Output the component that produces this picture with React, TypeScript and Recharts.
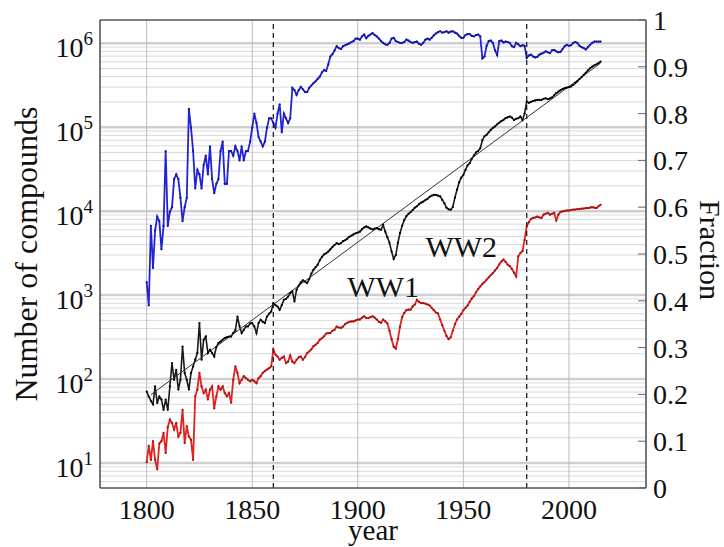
import React from "react"
import { LineChart, Line, XAxis, YAxis, ReferenceLine, ReferenceDot, Label } from "recharts"

const FONT = "'Liberation Serif', 'DejaVu Serif', serif"

// one entry per year, 1800..2015
const years = Array.from({ length: 216 }, (_, i) => 1800 + i)

// new compounds per year (left, log axis)
const newCompounds = [
  71, 62, 55, 50, 82, 52, 62, 57, 43, 57,
  43, 82, 155, 98, 129, 75, 98, 244, 118, 98,
  75, 118, 141, 170, 204, 464, 170, 294, 321, 204,
  223, 204, 186, 240, 268, 280, 294, 308, 315, 321,
  321, 353, 380, 556, 423, 353, 386, 423, 423, 460,
  464, 423, 353, 464, 508, 480, 464, 556, 600, 638,
  803, 760, 731, 668, 760, 880, 900, 960, 1057, 1106,
  841, 1157, 1300, 1420, 1500, 1450, 1389, 1550, 1800, 2000,
  2150, 2300, 2600, 2850, 3050, 3150, 3300, 3500, 3750, 3950,
  4160, 4050, 4150, 4400, 4500, 4700, 4950, 5100, 5300, 5450,
  5550, 5700, 6100, 6400, 6570, 6400, 6200, 6050, 6200, 6280,
  6100, 6000, 6870, 5700, 4900, 4200, 3300, 2700, 3000, 4200,
  5470, 6700, 7800, 8700, 9300, 9700, 10300, 11000, 11400, 12100,
  12600, 13000, 13500, 14000, 14800, 15300, 15600, 15640, 15300, 14960,
  13600, 12450, 11000, 10500, 10370, 11200, 14500, 18000, 22000, 25000,
  27000, 31000, 35000, 37300, 42000, 46000, 50000, 52000, 56000, 70000,
  78000, 81000, 87000, 93000, 98000, 102000, 108000, 113000, 118000, 122000,
  128000, 131000, 134000, 130000, 122000, 126000, 128000, 134000, 122000, 145000,
  202000, 195000, 200000, 205000, 208000, 211000, 212000, 211000, 218000, 221000,
  215000, 220000, 226000, 240000, 254000, 265000, 275000, 285000, 291000, 296000,
  300000, 305000, 318000, 334000, 352000, 375000, 395000, 420000, 445000, 475000,
  503000, 525000, 545000, 560000, 580000, 605000,
]

// blue fraction (right axis)
const fractionBlue = [
  0.44, 0.39, 0.56, 0.47, 0.55, 0.58, 0.57, 0.51, 0.56, 0.72,
  0.56, 0.59, 0.6, 0.66, 0.67, 0.66, 0.62, 0.57, 0.6, 0.62,
  0.81, 0.77, 0.72, 0.64, 0.68, 0.67, 0.64, 0.69, 0.71, 0.67,
  0.73, 0.66, 0.63, 0.65, 0.66, 0.72, 0.74, 0.65, 0.65, 0.72,
  0.72, 0.71, 0.73, 0.72, 0.7, 0.73, 0.7, 0.72, 0.72, 0.74,
  0.77, 0.8, 0.78, 0.75, 0.74, 0.73, 0.74, 0.77, 0.79, 0.79,
  0.78, 0.77, 0.8, 0.82, 0.76, 0.8, 0.79, 0.78, 0.79, 0.855,
  0.85, 0.84, 0.85, 0.857, 0.852, 0.846, 0.846, 0.855, 0.86, 0.865,
  0.869, 0.874, 0.879, 0.888, 0.893, 0.891, 0.905, 0.922, 0.927, 0.935,
  0.944, 0.94, 0.938, 0.944, 0.946, 0.948, 0.95, 0.953, 0.955, 0.96,
  0.96, 0.958, 0.965, 0.969, 0.961, 0.966, 0.969, 0.972, 0.968, 0.965,
  0.96, 0.955, 0.951, 0.948, 0.947, 0.951, 0.96, 0.962, 0.955, 0.953,
  0.951, 0.951, 0.953, 0.958, 0.956, 0.953, 0.951, 0.953, 0.954, 0.949,
  0.947, 0.951, 0.958, 0.96, 0.958, 0.962, 0.967, 0.971, 0.974, 0.976,
  0.973, 0.974, 0.976, 0.973, 0.975, 0.976, 0.973, 0.971, 0.966, 0.962,
  0.962, 0.968, 0.97, 0.97, 0.966, 0.965, 0.968, 0.969, 0.965, 0.918,
  0.922, 0.945, 0.955, 0.956, 0.951, 0.935, 0.925, 0.955, 0.956, 0.952,
  0.954, 0.953, 0.951, 0.944, 0.942, 0.951, 0.948, 0.944, 0.946, 0.945,
  0.919, 0.924, 0.926, 0.922, 0.92, 0.921, 0.926, 0.928, 0.93, 0.933,
  0.931, 0.929, 0.935, 0.936, 0.933, 0.931, 0.932, 0.938, 0.944, 0.947,
  0.945, 0.946, 0.951, 0.953, 0.951, 0.945, 0.942, 0.94, 0.937, 0.942,
  0.947, 0.951, 0.954, 0.954, 0.954, 0.954,
]

// red fraction (right axis)
const fractionRed = [
  0.055, 0.09, 0.06, 0.1, 0.06, 0.04, 0.095, 0.1, 0.118, 0.075,
  0.13, 0.146, 0.139, 0.125, 0.139, 0.11, 0.118, 0.167, 0.096, 0.132,
  0.11, 0.103, 0.06, 0.196, 0.21, 0.246, 0.217, 0.203, 0.21, 0.189,
  0.21, 0.217, 0.17, 0.196, 0.217, 0.21, 0.217, 0.203, 0.196, 0.203,
  0.182, 0.231, 0.26, 0.246, 0.224, 0.231, 0.239, 0.235, 0.231, 0.228,
  0.231, 0.228, 0.224, 0.235, 0.239, 0.246, 0.25, 0.253, 0.256, 0.26,
  0.296, 0.285, 0.281, 0.274, 0.278, 0.281, 0.267, 0.27, 0.283, 0.27,
  0.267, 0.274, 0.279, 0.281, 0.274, 0.28, 0.288, 0.292, 0.296, 0.303,
  0.306, 0.31, 0.317, 0.32, 0.324, 0.33, 0.331, 0.331, 0.336, 0.338,
  0.345, 0.343, 0.342, 0.345, 0.35, 0.353, 0.355, 0.356, 0.356, 0.358,
  0.36, 0.36, 0.364, 0.367, 0.363, 0.363, 0.365, 0.367, 0.364, 0.36,
  0.355, 0.353, 0.36, 0.356, 0.352, 0.336, 0.318, 0.302, 0.298, 0.318,
  0.345, 0.365, 0.374, 0.38, 0.381, 0.381, 0.388, 0.392, 0.402, 0.398,
  0.395, 0.395, 0.394, 0.392, 0.39, 0.385, 0.38, 0.375, 0.373, 0.36,
  0.348, 0.336, 0.325, 0.318, 0.322, 0.336, 0.35, 0.36, 0.366, 0.372,
  0.38, 0.385, 0.39, 0.398, 0.405, 0.41, 0.418, 0.425, 0.431, 0.436,
  0.44, 0.445, 0.45, 0.455, 0.459, 0.465, 0.47, 0.478, 0.484, 0.488,
  0.483, 0.477, 0.474, 0.468, 0.46, 0.452, 0.495, 0.502, 0.506, 0.53,
  0.559, 0.568, 0.575, 0.577, 0.578, 0.58, 0.578, 0.577, 0.584, 0.586,
  0.588, 0.584, 0.586, 0.588, 0.572, 0.584, 0.59, 0.591, 0.592, 0.593,
  0.593, 0.594, 0.595, 0.595, 0.596, 0.596, 0.597, 0.597, 0.598, 0.598,
  0.599, 0.6, 0.599, 0.598, 0.602, 0.605,
]

// exponential fit, straight on the log axis
const fitYears = [1802, 2015]
const fitCounts = [65, 580000]

const decadeTicks = [10, 100, 1000, 10000, 100000, 1000000]
const fractionTicks = [0, 0.1, 0.2, 0.3, 0.4, 0.5, 0.6, 0.7, 0.8, 0.9, 1]
const yearTicks = [1800, 1850, 1900, 1950, 2000]
const markerYears = [1860, 1980]
const warLabels = [
  { text: "WW1", year: 1912, count: 955 },
  { text: "WW2", year: 1949, count: 2860 },
]

const LOG_DOMAIN: [number, number] = [5.04, 1.89e6]

const rows = years.map((year, i) => ({
  year,
  compounds: newCompounds[i],
  blue: fractionBlue[i],
  red: fractionRed[i],
}))
const fitRows = fitYears.map((year, i) => ({ year, fit: fitCounts[i] }))

// 2..9 lines inside every decade
const minorGrid: number[] = []
for (const d of [1, ...decadeTicks]) {
  for (let m = 2; m <= 9; m++) {
    const v = d * m
    if (v > LOG_DOMAIN[0] && v < LOG_DOMAIN[1]) minorGrid.push(v)
  }
}

function PowerTick({ x, y, payload }: any) {
  const exp = Math.round(Math.log10(payload.value))
  return (
    <text x={x} y={y + 14} textAnchor="end" fontFamily={FONT} fontSize={28} fill="#111">
      10
      <tspan dy={-12} fontSize={19}>
        {exp}
      </tspan>
    </text>
  )
}

function WarText({ cx, cy, text }: any) {
  return (
    <text x={cx} y={cy} textAnchor="middle" fontFamily={FONT} fontSize={30} fill="#111">
      {text}
    </text>
  )
}

const tickStyle = { fontFamily: FONT, fontSize: 28, fill: "#111" }
const frame = { stroke: "#555", strokeWidth: 1.6 }

export default function App() {
  return (
    <div style={{ position: "absolute", left: 0, top: 0, background: "#fff" }}>
      <LineChart width={724} height={547} data={rows} margin={{ top: 20, right: 0, bottom: 0, left: 0 }}>
        <XAxis
          dataKey="year"
          type="number"
          domain={[1777.9, 2036.5]}
          ticks={yearTicks}
          allowDataOverflow
          height={59}
          tickLine={false}
          tickSize={0}
          tickMargin={11}
          axisLine={frame}
          tick={tickStyle}
        >
          <Label
            content={({ viewBox }: any) => (
              <text
                x={viewBox.x + viewBox.width / 2}
                y={viewBox.y + 52}
                textAnchor="middle"
                fontFamily={FONT}
                fontSize={29}
                fill="#111"
              >
                year
              </text>
            )}
          />
        </XAxis>
        <YAxis
          yAxisId="left"
          scale="log"
          domain={LOG_DOMAIN}
          allowDataOverflow
          ticks={decadeTicks}
          width={100}
          tickLine={false}
          tickSize={0}
          tickMargin={7}
          axisLine={frame}
          tick={<PowerTick />}
        >
          <Label
            content={({ viewBox }: any) => {
              const lx = viewBox.x + 37
              const ly = viewBox.y + viewBox.height / 2
              return (
                <text
                  x={lx}
                  y={ly}
                  transform={`rotate(-90, ${lx}, ${ly})`}
                  textAnchor="middle"
                  fontFamily={FONT}
                  fontSize={32}
                  fill="#111"
                >
                  Number of compounds
                </text>
              )
            }}
          />
        </YAxis>
        <YAxis
          yAxisId="right"
          orientation="right"
          domain={[0, 1]}
          ticks={fractionTicks}
          width={78}
          tickSize={-8}
          tickMargin={15}
          tickLine={{ stroke: "#666" }}
          axisLine={frame}
          tick={tickStyle}
          tickFormatter={(v: number) => String(v)}
        >
          <Label
            content={({ viewBox }: any) => {
              const lx = viewBox.x + 54
              const ly = viewBox.y + viewBox.height / 2 - 4
              return (
                <text
                  x={lx}
                  y={ly}
                  transform={`rotate(90, ${lx}, ${ly})`}
                  textAnchor="middle"
                  fontFamily={FONT}
                  fontSize={30}
                  fill="#111"
                >
                  Fraction
                </text>
              )
            }}
          />
        </YAxis>

        {minorGrid.map((v) => (
          <ReferenceLine key={`m${v}`} yAxisId="left" y={v} stroke="#d9d9d9" strokeWidth={1} />
        ))}
        {decadeTicks.map((v) => (
          <ReferenceLine key={`d${v}`} yAxisId="left" y={v} stroke="#cfcfcf" strokeWidth={2.5} />
        ))}
        {yearTicks.map((v) => (
          <ReferenceLine key={`y${v}`} yAxisId="left" x={v} stroke="#bdbdbd" strokeWidth={1} />
        ))}
        <ReferenceLine yAxisId="right" y={1} stroke="#555" strokeWidth={1.6} />

        <Line
          yAxisId="right"
          dataKey="blue"
          stroke="#2323d6"
          strokeWidth={1.8}
          dot={{ r: 1.1, fill: "#14149a", stroke: "none" }}
          isAnimationActive={false}
        />
        <Line
          yAxisId="left"
          dataKey="compounds"
          stroke="#1a1a1a"
          strokeWidth={1.6}
          dot={{ r: 1.1, fill: "#000", stroke: "none" }}
          isAnimationActive={false}
        />
        <Line
          yAxisId="right"
          dataKey="red"
          stroke="#e32222"
          strokeWidth={1.8}
          dot={{ r: 1.1, fill: "#a01212", stroke: "none" }}
          isAnimationActive={false}
        />
        <Line
          yAxisId="left"
          data={fitRows}
          dataKey="fit"
          stroke="#333"
          strokeWidth={1}
          dot={false}
          isAnimationActive={false}
        />

        {markerYears.map((v) => (
          <ReferenceLine key={`e${v}`} yAxisId="left" x={v} stroke="#222" strokeWidth={1.3} strokeDasharray="5 4" />
        ))}
        {warLabels.map((w) => (
          <ReferenceDot
            key={w.text}
            yAxisId="left"
            x={w.year}
            y={w.count}
            r={0}
            shape={(p: any) => <WarText cx={p.cx} cy={p.cy} text={w.text} />}
          />
        ))}
      </LineChart>
    </div>
  )
}
